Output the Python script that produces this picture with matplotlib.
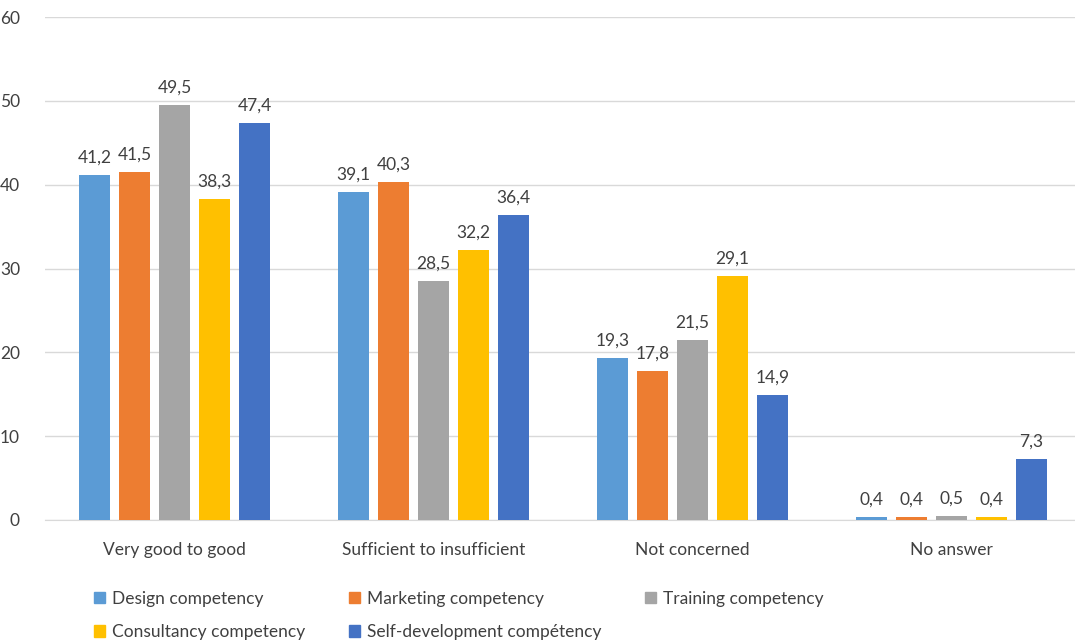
import matplotlib
matplotlib.use("Agg")
import matplotlib.pyplot as plt
from matplotlib.patches import Patch
import numpy as np

categories = ["Very good to good", "Sufficient to insufficient", "Not concerned", "No answer"]
series_names = ["Design competency", "Marketing competency", "Training competency",
                "Consultancy competency", "Self-development compétency"]
design = [41.2, 39.1, 19.3, 0.4]
marketing = [41.5, 40.3, 17.8, 0.4]
training = [49.5, 28.5, 21.5, 0.5]
consultancy = [38.3, 32.2, 29.1, 0.4]
selfdev = [47.4, 36.4, 14.9, 7.3]
series = [design, marketing, training, consultancy, selfdev]
colors = ["#5B9BD5", "#ED7D31", "#A5A5A5", "#FFC000", "#4472C4"]

plt.rcParams['font.family'] = ['Lato', 'DejaVu Sans']
txt = "#404040"
fs = 12.5

fig = plt.figure(figsize=(10.75, 6.41), dpi=100)
ax = fig.add_axes([45/1075, 1-520/641, 1036/1075, (520-17)/641])

x = np.arange(len(categories))
step = 0.1544
w = 0.12
for i, (vals, c) in enumerate(zip(series, colors)):
    pos = x + (i - 2) * step
    ax.bar(pos, vals, width=w, color=c, zorder=3)
    for p, v in zip(pos, vals):
        ax.text(p, v + 1.1, f"{v:.1f}".replace(".", ","), ha="center", va="bottom",
                fontsize=fs, color=txt)

ax.set_xlim(-0.5, 3.5)
ax.set_ylim(0, 60)
ax.set_yticks(range(0, 61, 10))
ax.grid(axis="y", color="#D9D9D9", linewidth=1, zorder=0)
ax.set_xticks(x)
ax.set_xticklabels(categories)
for s in ["top", "right", "left"]:
    ax.spines[s].set_visible(False)
ax.spines["bottom"].set_color("#D9D9D9")
ax.tick_params(axis="both", length=0, labelsize=fs, colors=txt)
ax.tick_params(axis="x", pad=16)
ax.tick_params(axis="y", pad=18)

handles = [Patch(color=c) for c in colors]
order = [0, 3, 1, 4, 2]
fig.legend([handles[i] for i in order], [series_names[i] for i in order],
           ncol=3, loc="lower left", bbox_to_anchor=(78/1075, -0.023),
           frameon=False, fontsize=fs, labelcolor=txt, handlelength=0.65, handleheight=0.65,
           handletextpad=0.4, columnspacing=2.5, labelspacing=1.0)

fig.savefig("out.png", dpi=100)
